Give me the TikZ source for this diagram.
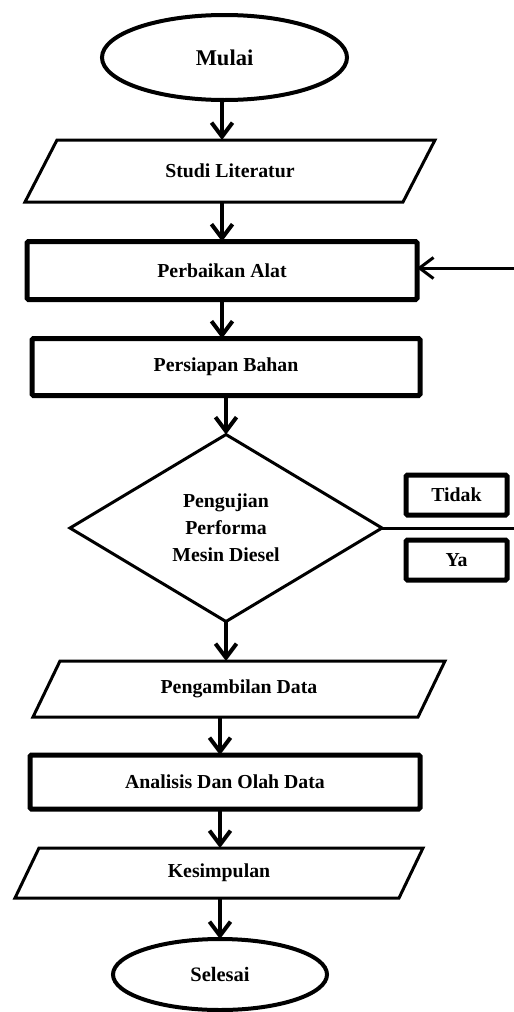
\documentclass[tikz,border=0pt]{standalone}
\usepackage{fontspec}
\setmainfont{Liberation Serif}
\usetikzlibrary{shapes.geometric,arrows.meta}
\begin{document}
\begin{tikzpicture}[x=1pt,y=-1pt,
  lbl/.style={font=\bfseries\fontsize{19.8}{23}\selectfont},
  term/.style={ellipse,draw,line width=4pt,inner sep=0pt,outer sep=0pt,lbl},
  proc/.style={rectangle,draw,line width=5pt,rounded corners=1.5pt,inner sep=0pt,outer sep=0pt,lbl},
  io/.style={rectangle,inner sep=0pt,outer sep=0pt,lbl},
  para/.style={line width=3pt,line join=miter},
  dec/.style={diamond,draw,line width=3pt,inner sep=0pt,outer sep=0pt,align=center,font=\bfseries\fontsize{19.8}{27}\selectfont},
  arr/.style={line width=4pt,-{Straight Barb[length=14pt,width=21pt]}},
  ln/.style={line width=3pt}]
\useasboundingbox (0,0) rectangle (514,1012);
\coordinate (ax1) at (222,0);
\coordinate (ax3) at (220,0);

\node[term, minimum width=245pt, minimum height=85pt, font=\bfseries\fontsize{22.5}{26}\selectfont] (mulai) at (224.5,57.5) {Mulai};

\node[io, minimum width=378pt, minimum height=62pt] (studi) at (230,171) {Studi Literatur};
\draw[para] ([xshift=-16pt]studi.south west) -- ([xshift=16pt]studi.north west) -- ([xshift=16pt]studi.north east) -- ([xshift=-16pt]studi.south east) -- cycle;

\node[proc, minimum width=390pt, minimum height=58pt] (perbaikan) at (222,270.5) {Perbaikan Alat};
\node[proc, minimum width=388pt, minimum height=57pt] (persiapan) at (226,367) {Persiapan Bahan};

\node[dec, minimum width=312pt, minimum height=187pt] (uji) at (226,528) {Pengujian\\Performa\\Mesin Diesel};

\node[proc, minimum width=101pt, minimum height=40pt] (tidak) at (456.5,495) {Tidak};
\node[proc, minimum width=101pt, minimum height=40pt] (ya) at (456.5,560) {Ya};

\node[io, minimum width=385pt, minimum height=56pt] (ambil) at (239,689) {Pengambilan Data};
\draw[para] ([xshift=-13.5pt]ambil.south west) -- ([xshift=13.5pt]ambil.north west) -- ([xshift=13.5pt]ambil.north east) -- ([xshift=-13.5pt]ambil.south east) -- cycle;

\node[proc, minimum width=390pt, minimum height=54pt] (analisis) at (225,782) {Analisis Dan Olah Data};

\node[io, minimum width=384pt, minimum height=50pt] (simpul) at (219,873) {Kesimpulan};
\draw[para] ([xshift=-12pt]simpul.south west) -- ([xshift=12pt]simpul.north west) -- ([xshift=12pt]simpul.north east) -- ([xshift=-12pt]simpul.south east) -- cycle;

\node[term, minimum width=214pt, minimum height=71pt, font=\bfseries\fontsize{20.5}{24}\selectfont] (selesai) at (220,974.5) {Selesai};

\draw[arr] (mulai.south -| ax1) -- (studi.north -| ax1);
\draw[arr] (studi.south -| ax1) -- (perbaikan.north -| ax1);
\draw[arr] (perbaikan.south -| ax1) -- (persiapan.north -| ax1);
\draw[arr] (persiapan.south -| uji.north) -- (uji.north);
\draw[arr] (uji.south) -- (ambil.north -| uji.south);
\draw[arr] (ambil.south -| ax3) -- (analisis.north -| ax3);
\draw[arr] (analisis.south -| ax3) -- (simpul.north -| ax3);
\draw[arr] (simpul.south -| ax3) -- (selesai.north);

\coordinate (fb) at (514,268);
\draw[arr, line width=3pt] (fb) -- (fb -| perbaikan.east);
\coordinate (re) at (514,528);
\draw[ln] (uji.east) -- (re);
\end{tikzpicture}
\end{document}
